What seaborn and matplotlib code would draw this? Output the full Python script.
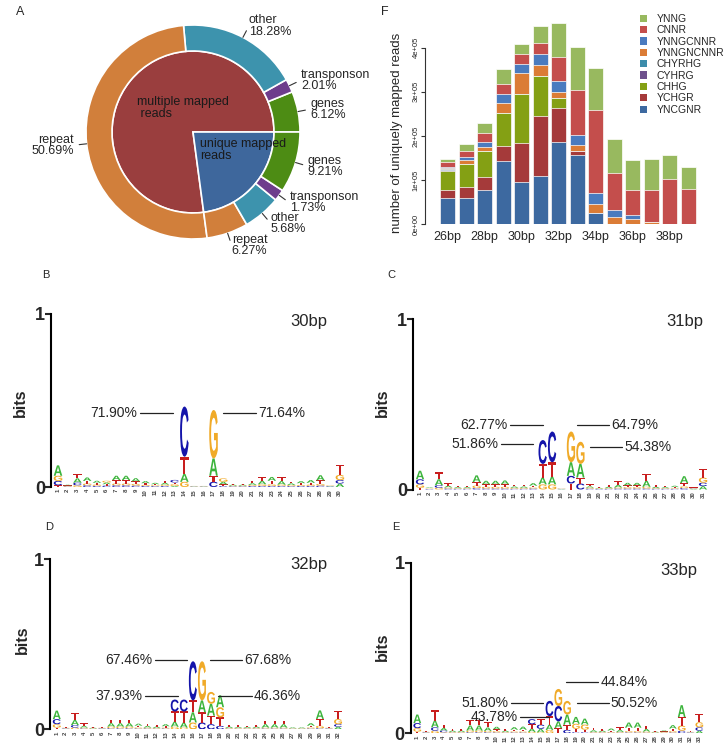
import numpy as np
import pandas as pd
import seaborn as sns
import matplotlib.pyplot as plt
from matplotlib.textpath import TextPath
from matplotlib.patches import PathPatch, Patch
from matplotlib.font_manager import FontProperties
import matplotlib.transforms as mtransforms

W, H = 728, 748

# ---- panel A: read classes ----
ring_labels = ['genes', 'transponson', 'other', 'repeat', 'repeat', 'other', 'transponson', 'genes']
ring_values = [6.12, 2.01, 18.28, 50.69, 6.27, 5.68, 1.73, 9.21]
ring_colors = ['#4d8c14', '#6e3d8c', '#3d93ad', '#d17f3b', '#d17f3b', '#3d93ad', '#6e3d8c', '#4d8c14']
core_labels = ['multiple mapped\n reads', 'unique mapped\nreads']
core_colors = ['#9a3e3e', '#3e679c']

# ---- panel F: uniquely mapped reads per length (x 1e5) ----
sizes = ['26bp', '27bp', '28bp', '29bp', '30bp', '31bp', '32bp', '33bp', '34bp', '35bp', '36bp', '37bp', '38bp', '39bp']
YNCGNR = [0.60, 0.58, 0.76, 1.44, 0.96, 1.10, 1.85, 1.56, 0.26, 0, 0, 0, 0, 0]
YCHGR = [0.17, 0.25, 0.31, 0.34, 0.87, 1.35, 0.79, 0.10, 0, 0, 0, 0, 0, 0]
CHHG = [0.44, 0.53, 0.58, 0.73, 1.13, 0.91, 0.21, 0, 0, 0, 0, 0, 0, 0]
CYHRG = [0.02, 0, 0, 0, 0, 0, 0, 0, 0, 0, 0, 0, 0, 0]
CHYRHG = [0.02, 0.01, 0, 0, 0, 0, 0, 0, 0, 0, 0, 0, 0, 0]
YNNGNCNNR = [0.02, 0.08, 0.10, 0.24, 0.46, 0.25, 0.15, 0.14, 0.19, 0.15, 0.11, 0.05, 0, 0]
YNNGCNNR = [0.03, 0.08, 0.12, 0.21, 0.21, 0.24, 0.24, 0.23, 0.25, 0.17, 0.09, 0, 0, 0]
CNNR = [0.10, 0.13, 0.19, 0.21, 0.22, 0.25, 0.55, 1.02, 1.88, 0.84, 0.57, 0.72, 1.03, 0.80]
YNNG = [0.07, 0.15, 0.22, 0.34, 0.23, 0.38, 0.78, 0.96, 0.95, 0.77, 0.68, 0.70, 0.53, 0.50]
motif_names = ['YNCGNR', 'YCHGR', 'CHHG', 'CYHRG', 'CHYRHG', 'YNNGNCNNR', 'YNNGCNNR', 'CNNR', 'YNNG']
motif_values = [YNCGNR, YCHGR, CHHG, CYHRG, CHYRHG, YNNGNCNNR, YNNGCNNR, CNNR, YNNG]
motif_colors = ['#3d69a0', '#a53a3a', '#84a014', '#6e508c', '#3c8caa', '#db7c36', '#4a7bbf', '#c44e4c', '#98b95f']

# ---- panels B-E: sequence logos (bits per base, by position) ----
b30_A = [.06, .004, .025, .02, .012, .01, .025, .025, .018, .012, .008, .01, .006, .045, .002, .002, .10, .015, .006, .006, .01, .02, .022, .02, .01, .012, .016, .03, .003, .02]
b30_C = [.025, .003, .015, .01, .006, .008, .01, .01, .008, .006, .005, .006, .015, .29, .002, .002, .03, .005, .004, .004, .006, .006, .006, .006, .005, .006, .006, .008, .003, .02]
b30_G = [.03, .003, .01, .01, .008, .01, .01, .01, .01, .006, .005, .008, .01, .03, .002, .002, .28, .02, .004, .004, .006, .01, .01, .008, .006, .006, .008, .01, .003, .03]
b30_T = [.01, .003, .025, .015, .01, .008, .02, .02, .015, .01, .006, .01, .01, .10, .002, .002, .035, .01, .006, .006, .015, .02, .02, .022, .01, .01, .01, .02, .003, .06]

b31_A = [.05, .004, .035, .01, .006, .006, .04, .02, .02, .022, .008, .008, .015, .04, .045, .002, .08, .08, .008, .004, .008, .015, .015, .015, .035, .008, .006, .008, .04, .003, .02]
b31_C = [.03, .003, .015, .006, .004, .004, .008, .006, .006, .006, .004, .004, .006, .14, .18, .002, .045, .035, .005, .003, .004, .006, .006, .006, .006, .004, .004, .004, .008, .003, .02]
b31_G = [.02, .003, .01, .006, .004, .004, .015, .01, .01, .01, .006, .006, .006, .03, .03, .002, .18, .13, .006, .003, .004, .006, .008, .008, .01, .004, .004, .004, .01, .003, .03]
b31_T = [.01, .003, .04, .015, .006, .008, .02, .015, .015, .015, .01, .01, .01, .08, .085, .002, .035, .035, .012, .004, .012, .02, .01, .01, .04, .01, .006, .006, .02, .003, .05]

b32_A = [.05, .003, .03, .01, .004, .003, .02, .02, .02, .012, .01, .008, .012, .03, .03, .06, .07, .07, .07, .008, .006, .006, .008, .02, .02, .02, .005, .005, .015, .05, .003, .015]
b32_C = [.03, .003, .015, .005, .003, .003, .006, .006, .006, .005, .005, .004, .005, .07, .07, .23, .04, .03, .02, .004, .004, .004, .004, .005, .005, .005, .003, .003, .005, .006, .003, .015]
b32_G = [.02, .003, .01, .005, .003, .003, .01, .01, .01, .006, .005, .004, .005, .015, .01, .04, .23, .07, .06, .004, .004, .004, .004, .005, .005, .005, .003, .003, .006, .015, .003, .03]
b32_T = [.01, .003, .04, .015, .005, .003, .02, .02, .02, .01, .01, .008, .008, .06, .065, .07, .06, .05, .05, .01, .01, .008, .01, .02, .02, .02, .005, .005, .01, .04, .003, .05]

b33_A = [.05, .003, .04, .015, .008, .008, .03, .03, .02, .015, .008, .015, .018, .02, .02, .03, .04, .06, .04, .035, .01, .008, .012, .012, .03, .03, .015, .004, .006, .02, .07, .003, .015]
b33_C = [.03, .003, .02, .01, .004, .004, .006, .006, .006, .005, .004, .005, .005, .03, .025, .09, .09, .02, .006, .006, .004, .004, .004, .004, .005, .005, .004, .003, .003, .005, .015, .003, .02]
b33_G = [.02, .003, .015, .006, .004, .004, .01, .01, .008, .008, .004, .006, .006, .008, .006, .02, .10, .08, .03, .03, .004, .004, .004, .004, .008, .008, .006, .003, .004, .008, .03, .003, .03]
b33_T = [.01, .003, .06, .02, .01, .008, .03, .03, .03, .01, .012, .01, .01, .025, .03, .05, .03, .03, .02, .015, .015, .012, .008, .015, .02, .02, .02, .004, .004, .015, .05, .003, .05]

# percent call-outs: text, line start, line end (position units), height (bits), side
ann30 = [('71.90%', 9.4, 12.8, 0.43, 'l'), ('71.64%', 18.0, 21.4, 0.43, 'r')]
ann31 = [('62.77%', 10.5, 14.0, 0.377, 'l'), ('51.86%', 9.56, 13.0, 0.264, 'l'),
         ('64.79%', 17.6, 21.0, 0.377, 'r'), ('54.38%', 19.0, 22.4, 0.25, 'r')]
ann32 = [('67.46%', 11.8, 15.3, 0.41, 'l'), ('37.93%', 10.7, 14.4, 0.198, 'l'),
         ('67.68%', 17.9, 21.4, 0.41, 'r'), ('46.36%', 18.8, 22.5, 0.198, 'r')]
ann33 = [('44.84%', 17.9, 21.5, 0.298, 'r'), ('51.80%', 11.6, 15.3, 0.18, 'l'),
         ('50.52%', 19.1, 22.7, 0.176, 'r'), ('43.78%', 12.7, 15.9, 0.094, 'l')]

base_colors = {'A': '#3cb43c', 'C': '#1414aa', 'G': '#f0aa28', 'T': '#c81e1e'}

sns.set_style('white')
plt.rcParams['font.family'] = ['Liberation Sans', 'DejaVu Sans']
letter_font = FontProperties(family='Liberation Sans', weight='bold')

fig = plt.figure(figsize=(W / 100, H / 100), dpi=100)


def px_axes(left, top, right, bottom):
    return fig.add_axes([left / W, 1 - bottom / H, (right - left) / W, (bottom - top) / H])


def ftext(x, y, s, **kw):
    fig.text(x / W, 1 - y / H, s, **kw)


# ---------------- A: donut ----------------
R = 107.0
L = 1.5
axA = px_axes(193 - L * R, 132 - L * R, 193 + L * R, 132 + L * R)
core_values = [sum(ring_values[:4]), sum(ring_values[4:])]
axA.pie(core_values, radius=0.757, colors=core_colors, startangle=0, counterclock=True,
        wedgeprops=dict(edgecolor='white', linewidth=1.2))
ring_text = [f'{l}\n{v:.2f}%' for l, v in zip(ring_labels, ring_values)]
wedges, texts = axA.pie(ring_values, radius=1.0, colors=ring_colors, startangle=0, counterclock=True,
                        labels=ring_text, labeldistance=1.12,
                        textprops=dict(fontsize=9, linespacing=0.9),
                        wedgeprops=dict(width=0.243, edgecolor='white', linewidth=1.2))
for w in wedges:
    ang = np.deg2rad((w.theta1 + w.theta2) / 2)
    axA.plot([1.0 * np.cos(ang), 1.07 * np.cos(ang)], [1.0 * np.sin(ang), 1.07 * np.sin(ang)],
             color='#333333', lw=0.8)
axA.text(-0.52, 0.22, core_labels[0], fontsize=9, ha='left', va='center', color='#1a1a1a', linespacing=1.0)
axA.text(0.065, -0.17, core_labels[1], fontsize=9, ha='left', va='center', color='#1a1a1a', linespacing=1.0)
axA.set_xlim(-L, L)
axA.set_ylim(-L, L)
axA.set_aspect('equal')
axA.axis('off')

# ---------------- F: stacked bars ----------------
axF = px_axes(425, 21.2, 700, 224)
df = pd.DataFrame(dict(zip(motif_names, motif_values)), index=sizes) * 1e5
cum = df.cumsum(axis=1)
for name, col in reversed(list(zip(motif_names, motif_colors))):
    sns.barplot(x=sizes, y=cum[name].values, color=col, width=0.82, saturation=1,
                edgecolor='white', linewidth=0.5, order=sizes, ax=axF)
axF.set_xlim(-1.22, 13.63)
axF.set_ylim(0, 4.6e5)
for s in ['top', 'right', 'bottom']:
    axF.spines[s].set_visible(False)
axF.spines['left'].set_bounds(0, 4e5)
axF.spines['left'].set_linewidth(0.8)
axF.spines['left'].set_color('#333333')
axF.set_yticks([0, 1e5, 2e5, 3e5, 4e5])
axF.set_yticklabels(['0e+00', '1e+05', '2e+05', '3e+05', '4e+05'], rotation=90, va='center', fontsize=5.5)
axF.tick_params(axis='y', length=3, width=0.8, pad=1, left=True, color='#333333')
axF.set_xticks(range(0, len(sizes), 2))
axF.set_xticklabels(sizes[::2], fontsize=9)
axF.tick_params(axis='x', length=0, pad=5)
axF.set_xlabel('')
axF.set_ylabel('')
ftext(397, 133, 'number of uniquely mapped reads', fontsize=9.5, rotation=90, ha='center', va='center')
handles = [Patch(facecolor=c, edgecolor='none', label=n)
           for n, c in reversed(list(zip(motif_names, motif_colors)))]
fig.legend(handles=handles, loc='upper left', bbox_to_anchor=(640 / W, 1 - 14 / H), frameon=False,
           fontsize=7.5, handlelength=0.7, handleheight=0.7, handletextpad=0.9,
           labelspacing=0.13, borderpad=0, borderaxespad=0)


# ---------------- B-E: logos ----------------
def draw_letter(ax, ch, x, y, w, h):
    if h <= 0:
        return
    tp = TextPath((0, 0), ch, size=1, prop=letter_font)
    bb = tp.get_extents()
    t = mtransforms.Affine2D().translate(-bb.x0, -bb.y0).scale(w / bb.width, h / bb.height).translate(x - w / 2, y)
    ax.add_patch(PathPatch(t.transform_path(tp), facecolor=base_colors[ch], edgecolor='none'))


def draw_logo(ax, cols, ann):
    n = len(cols['A'])
    for i in range(n):
        stack = sorted((cols[b][i], b) for b in 'ACGT')
        y = 0.0
        for h, b in stack:
            draw_letter(ax, b, i + 1, y, 0.88, h)
            y += h
    for txt, x0, x1, y, side in ann:
        ax.plot([x0, x1], [y, y], color='#222222', lw=0.9)
        if side == 'l':
            ax.text(x0 - 0.25, y, txt, ha='right', va='center', fontsize=10)
        else:
            ax.text(x1 + 0.25, y, txt, ha='left', va='center', fontsize=10)
    ax.set_xlim(0.3, n + 0.6)
    ax.set_ylim(0, 1)
    for s in ['top', 'right', 'bottom']:
        ax.spines[s].set_visible(False)
    ax.spines['left'].set_linewidth(1.5)
    ax.spines['left'].set_color('black')
    ax.set_yticks([0, 1])
    ax.set_yticklabels(['0', '1'], fontsize=13, fontweight='bold')
    ax.tick_params(axis='y', length=4, width=1.5, pad=0.5, left=True)
    ax.set_xticks(range(1, n + 1))
    ax.set_xticklabels([str(i) for i in range(1, n + 1)], rotation=90, fontsize=4.3,
                       color='#444444', fontweight='bold')
    ax.tick_params(axis='x', length=0, pad=1.5)


logos = [
    (dict(A=b30_A, C=b30_C, G=b30_G, T=b30_T), ann30, (51.2, 314, 345.7, 487), '30bp', (290, 322), (20, 403), 'B', (42, 275)),
    (dict(A=b31_A, C=b31_C, G=b31_G, T=b31_T), ann31, (413.4, 319, 708.7, 489.5), '31bp', (666, 322), (382, 403), 'C', (387, 275)),
    (dict(A=b32_A, C=b32_C, G=b32_G, T=b32_T), ann32, (50.4, 559.3, 343.5, 729.3), '32bp', (290, 564), (22, 640), 'D', (45, 527)),
    (dict(A=b33_A, C=b33_C, G=b33_G, T=b33_T), ann33, (411.1, 562.7, 704.6, 733.3), '33bp', (660, 571), (382, 647), 'E', (392, 527)),
]
for cols, ann, box, title, tpos, bpos, letter, lpos in logos:
    ax = px_axes(*box)
    draw_logo(ax, cols, ann)
    ftext(tpos[0], tpos[1], title, fontsize=12, ha='left', va='center')
    ftext(bpos[0], bpos[1], 'bits', fontsize=11.5, fontweight='bold', rotation=90, ha='center', va='center')
    ftext(lpos[0], lpos[1], letter, fontsize=8, ha='left', va='center')

ftext(16, 12, 'A', fontsize=9, ha='left', va='center')
ftext(381, 12, 'F', fontsize=9, ha='left', va='center')

fig.savefig('out.png', dpi=100)
